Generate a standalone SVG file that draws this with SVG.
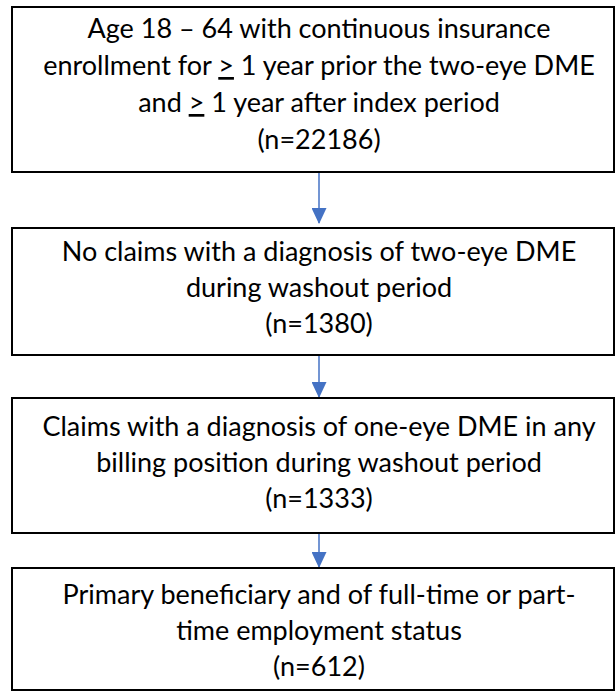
<svg xmlns="http://www.w3.org/2000/svg" width="615" height="692" viewBox="0 0 615 692">
<defs>
<style>
.box{fill:#fff;stroke:#000;stroke-width:2}
.t{font-family:Lato,"Open Sans","Liberation Sans",sans-serif;font-size:27px;fill:#000;text-anchor:middle}
.u{text-decoration:underline}
.c{stroke:#4472C4;stroke-width:1.5;fill:none}
</style>
<marker id="ah" viewBox="0 0 16 15" refX="15" refY="7.5" markerWidth="16" markerHeight="15" markerUnits="userSpaceOnUse" orient="auto">
<path d="M0,0 L16,7.5 L0,15 Z" fill="#4472C4"/>
</marker>
</defs>
<rect width="615" height="692" fill="#fff"/>
<g id="connectors">
<line class="c" x1="319" y1="172" x2="319" y2="223" marker-end="url(#ah)"/>
<line class="c" x1="319" y1="355" x2="319" y2="397" marker-end="url(#ah)"/>
<line class="c" x1="319" y1="533" x2="319" y2="567" marker-end="url(#ah)"/>
</g>
<g id="node1">
<rect class="box" x="12" y="7" width="602" height="165"/>
<text class="t" x="319" y="38">Age 18 – 64 with continuous insurance</text>
<text class="t" x="319" y="75">enrollment for <tspan class="u">&gt;</tspan> 1 year prior the two-eye DME</text>
<text class="t" x="319" y="112">and <tspan class="u">&gt;</tspan> 1 year after index period</text>
<text class="t" x="319" y="149">(n=22186)</text>
</g>
<g id="node2">
<rect class="box" x="12" y="228" width="602" height="127"/>
<text class="t" x="319" y="261">No claims with a diagnosis of two-eye DME</text>
<text class="t" x="319" y="297">during washout period</text>
<text class="t" x="319" y="333">(n=1380)</text>
</g>
<g id="node3">
<rect class="box" x="12" y="398" width="602" height="135"/>
<text class="t" x="319" y="436">Claims with a diagnosis of one-eye DME in any</text>
<text class="t" x="319" y="472">billing position during washout period</text>
<text class="t" x="319" y="508">(n=1333)</text>
</g>
<g id="node4">
<rect class="box" x="12" y="568" width="602" height="122"/>
<text class="t" x="319" y="604">Primary beneficiary and of full-time or part-</text>
<text class="t" x="319" y="640">time employment status</text>
<text class="t" x="319" y="676">(n=612)</text>
</g>
</svg>
